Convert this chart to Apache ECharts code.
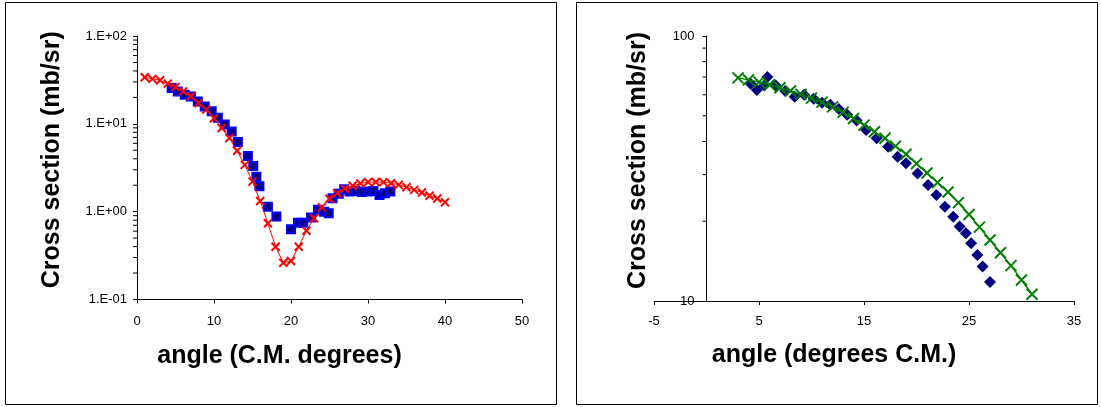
<!DOCTYPE html>
<html>
<head>
<meta charset="utf-8">
<script src="https://cdn.jsdelivr.net/npm/echarts@6/dist/echarts.min.js"></script>
<style>
html,body{margin:0;padding:0;background:#fff;}
#c{width:1101px;height:407px;}
</style>
</head>
<body>
<div id="c"></div>
<script>
// ---------- Left chart data ----------
const leftTheoryX = [1,2,3,4,5,6,7,8,9,10,11,12,13,14,15,16,17,18,19,20,21,22,23,24,25,26,27,28,29,30,31,32,33,34,35,36,37,38,39,40];
const leftTheoryY = [33.9,32.5,31.3,28.7,26.3,23.4,20.6,17.3,14.5,11.6,8.95,6.89,4.93,3.41,2.20,1.32,0.737,0.398,0.262,0.274,0.398,0.607,0.841,1.12,1.40,1.62,1.82,1.97,2.09,2.17,2.18,2.17,2.11,2.02,1.90,1.77,1.65,1.52,1.41,1.28];
const leftDataX = [4.5,5.3,6.2,7.0,7.9,8.8,9.7,10.5,11.4,12.3,13.1,14.4,15.1,15.5,15.9,17.0,18.1,20.0,20.9,21.6,22.6,23.5,24.3,24.9,25.4,26.2,26.9,27.6,28.4,29.2,30.0,30.7,31.5,32.2,32.9];
const leftDataY = [25.6,23.4,21.5,20.5,18.0,15.8,13.9,11.7,9.8,8.2,6.2,4.3,3.3,2.5,1.95,1.14,0.88,0.63,0.75,0.75,0.86,1.05,1.0,0.96,1.42,1.6,1.8,1.7,1.72,1.68,1.7,1.72,1.55,1.62,1.7];
const leftXTicks = [0,10,20,30,40,50];
const leftYMinor = [0.2,0.3,0.4,0.5,0.6,0.7,0.8,0.9,2,3,4,5,6,7,8,9,20,30,40,50,60,70,80,90];

// ---------- Right chart data ----------
const rightTheoryX = [3,4,5,6,7,8,9,10,11,12,13,14,15,16,17,18,19,20,21,22,23,24,25,26,27,28,29,30,31];
const rightTheoryY = [69.5,68.3,67.0,65.5,63.8,62.0,60.2,58.3,56.3,54.0,51.5,48.8,46.1,43.5,41.1,38.4,35.8,33.0,30.4,28.0,25.8,23.5,21.2,19.0,17.0,15.2,13.6,12.0,10.6];
const rightDataX = [4.2,4.8,5.5,5.8,6.6,7.5,8.4,9.3,10.2,11.0,11.8,12.6,13.4,14.3,15.2,16.2,17.3,18.2,19.0,20.1,21.1,21.9,22.7,23.5,24.1,24.7,25.2,25.8,26.3,27.0];
const rightDataY = [66,62.5,65,70,65,62,59,60,58,56,55,53,50.5,48,44.2,41.1,38.2,35.0,33.1,30.3,27.4,25.1,22.7,20.8,19.1,18.0,16.5,14.9,13.5,11.8];
const rightXTicks = [-5,5,15,25,35];
const rightYMinor = [20,30,40,50,60,70,80,90];

const zip = (xs, ys) => xs.map((x, i) => [x, ys[i]]);
const FONT = '"Liberation Sans", Arial, sans-serif';
const X_MARK = 'path://M0,0L10,10M10,0L0,10';

function expLabel(v) {
  const e = Math.round(Math.log10(v));
  return '1.E' + (e < 0 ? '-' : '+') + String(Math.abs(e)).padStart(2, '0');
}

function minorTickSeries(idx, values) {
  return {
    type: 'custom', xAxisIndex: idx, yAxisIndex: idx, silent: true, z: 5,
    data: values.map(v => [0, v]),
    renderItem: (params, api) => {
      const p = api.coord([api.value(0), api.value(1)]);
      return { type: 'line', shape: { x1: p[0] - 4, y1: p[1], x2: p[0], y2: p[1] },
               style: { stroke: '#000', lineWidth: 1 } };
    }
  };
}

const axisLineStyle = { show: true, onZero: false, lineStyle: { color: '#000', width: 1 } };
const tickStyle = { show: true, length: 4, lineStyle: { color: '#000' } };
const labelStyle = { color: '#000', fontSize: 13, fontFamily: FONT };
const nameStyle = { color: '#000', fontSize: 25, fontWeight: 'bold', fontFamily: FONT };

const chart = echarts.init(document.getElementById('c'), null, { renderer: 'canvas' });
chart.setOption({
  animation: false,
  backgroundColor: '#fff',
  graphic: [
    { type: 'rect', shape: { x: 5.5, y: 2.5, width: 551, height: 402 }, style: { fill: 'none', stroke: '#000', lineWidth: 1 } },
    { type: 'rect', shape: { x: 576.5, y: 2.5, width: 521, height: 402 }, style: { fill: 'none', stroke: '#000', lineWidth: 1 } }
  ],
  grid: [
    { left: 137, top: 36, width: 385, height: 263.5 },
    { left: 654, top: 36, width: 420, height: 265 }
  ],
  xAxis: [
    { type: 'value', gridIndex: 0, min: 0, max: 50, interval: 10,
      axisLine: axisLineStyle, axisTick: tickStyle, splitLine: { show: false },
      axisLabel: Object.assign({ margin: 15, customValues: leftXTicks }, labelStyle),
      name: 'angle (C.M. degrees)', nameLocation: 'middle', nameGap: 44,
      nameTextStyle: Object.assign({ padding: [0, 100, 0, 0] }, nameStyle) },
    { type: 'value', gridIndex: 1, min: -5, max: 35,
      axisLine: axisLineStyle, splitLine: { show: false },
      axisTick: Object.assign({ customValues: rightXTicks }, tickStyle),
      axisLabel: Object.assign({ margin: 14, customValues: rightXTicks }, labelStyle),
      name: 'angle (degrees C.M.)', nameLocation: 'middle', nameGap: 42,
      nameTextStyle: Object.assign({ padding: [0, 60, 0, 0] }, nameStyle) }
  ],
  yAxis: [
    { type: 'log', logBase: 10, gridIndex: 0, min: 0.1, max: 100,
      axisLine: { show: true, onZero: false, lineStyle: { color: '#000', width: 1 } }, axisTick: tickStyle, splitLine: { show: false },
      axisLabel: Object.assign({ margin: 10, formatter: expLabel }, labelStyle),
      name: 'Cross section (mb/sr)', nameLocation: 'middle', nameRotate: 90, nameGap: 72,
      nameTextStyle: Object.assign({ padding: [0, 0, 0, 16] }, nameStyle) },
    { type: 'log', logBase: 10, gridIndex: 1, min: 10, max: 100, offset: -52.5,
      axisLine: { show: true, onZero: false, lineStyle: { color: '#000', width: 1 } }, axisTick: tickStyle, splitLine: { show: false },
      axisLabel: Object.assign({ margin: 12 }, labelStyle),
      name: 'Cross section (mb/sr)', nameLocation: 'middle', nameRotate: 90, nameGap: 56,
      nameTextStyle: Object.assign({ padding: [0, 0, 0, 16] }, nameStyle) }
  ],
  series: [
    minorTickSeries(0, leftYMinor),
    minorTickSeries(1, rightYMinor),
    { type: 'scatter', xAxisIndex: 0, yAxisIndex: 0, data: zip(leftDataX, leftDataY),
      symbol: 'rect', symbolSize: 8, itemStyle: { color: '#000080', borderColor: '#0000FF', borderWidth: 2, opacity: 1 }, z: 2 },
    { type: 'line', xAxisIndex: 0, yAxisIndex: 0, data: zip(leftTheoryX, leftTheoryY),
      symbol: X_MARK, symbolSize: 8, showSymbol: true,
      lineStyle: { color: '#FF0000', width: 1 },
      itemStyle: { color: '#FF0000', borderColor: '#FF0000', borderWidth: 2 }, z: 3 },
    { type: 'scatter', xAxisIndex: 1, yAxisIndex: 1, data: zip(rightDataX, rightDataY),
      symbol: 'diamond', symbolSize: 12, itemStyle: { color: '#000080', opacity: 1 }, z: 2 },
    { type: 'line', xAxisIndex: 1, yAxisIndex: 1, data: zip(rightTheoryX, rightTheoryY),
      symbol: X_MARK, symbolSize: 11, showSymbol: true,
      lineStyle: { color: '#008000', width: 1.5 },
      itemStyle: { color: '#008000', borderColor: '#008000', borderWidth: 2 }, z: 3 }
  ]
});
</script>
</body>
</html>
